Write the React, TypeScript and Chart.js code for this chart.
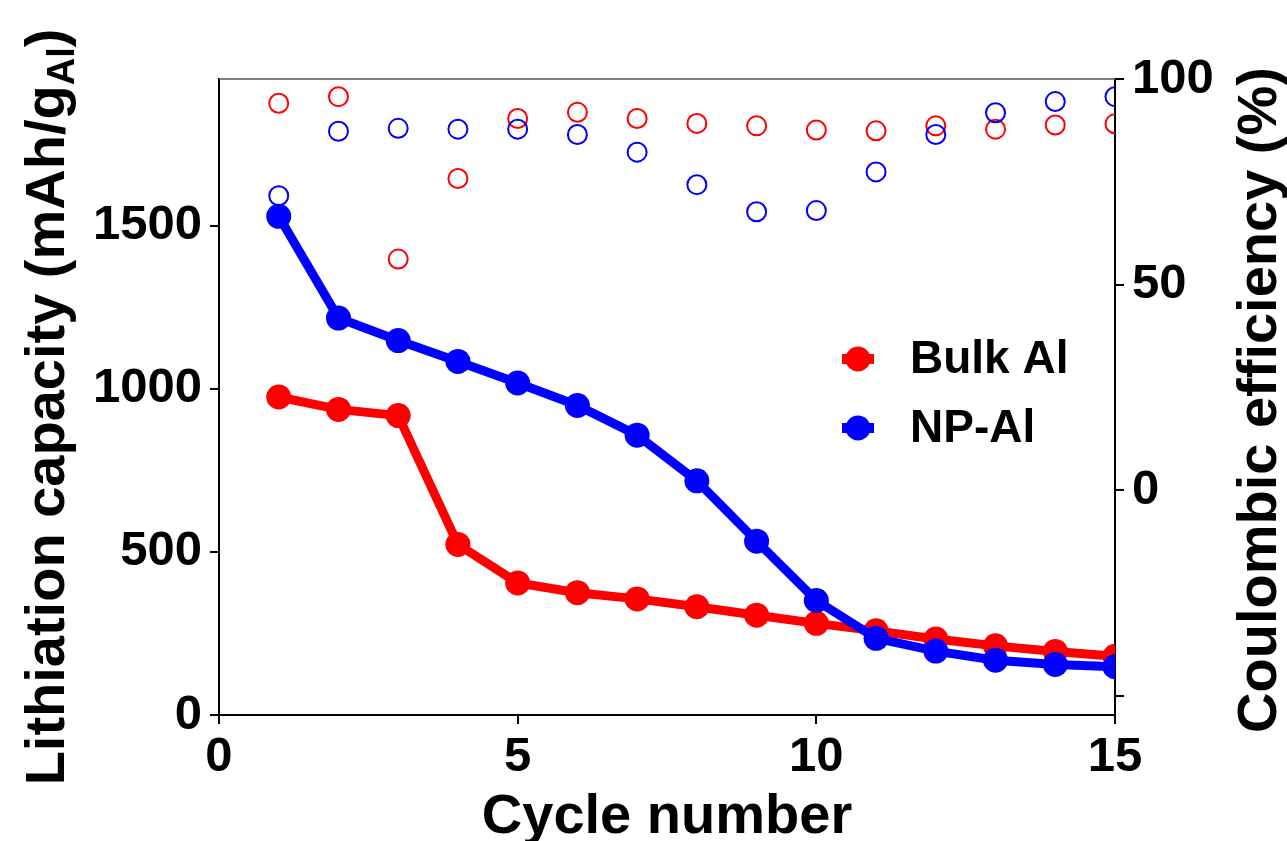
import React, { useEffect, useRef } from 'react';
import { Chart, registerables } from 'chart.js';

Chart.register(...registerables);

// ---- data ----
const cycles = [1, 2, 3, 4, 5, 6, 7, 8, 9, 10, 11, 12, 13, 14, 15];
const bulkCapacity = [975, 937, 918, 523, 405, 375, 356, 332, 306, 281, 258, 233, 212, 195, 180];
const npCapacity = [1529, 1217, 1148, 1084, 1018, 949, 858, 718, 533, 351, 235, 196, 168, 155, 148];
const bulkEfficiency = [94.1, 95.7, 56.2, 75.8, 90.4, 91.9, 90.4, 89.2, 88.6, 87.6, 87.4, 88.6, 87.8, 88.8, 89.1];
const npEfficiency = [71.6, 87.3, 88.0, 87.8, 87.8, 86.5, 82.2, 74.3, 67.7, 68.0, 77.4, 86.5, 91.8, 94.5, 95.7];

const cycleTicks = [0, 5, 10, 15];
const capacityTicks = [0, 500, 1000, 1500];
const efficiencyTicks = [-50, 0, 50, 100];
const hiddenEfficiencyTick = -50;

const seriesNames = ['Bulk Al', 'NP-Al'];
const seriesColors = ['#ff0000', '#0000ff'];
const xTitle = 'Cycle number';
const yTitleMain = 'Lithiation capacity (mAh/g';
const yTitleSub = 'Al';
const yTitleEnd = ')';
const y2Title = 'Coulombic efficiency (%)';

const FONT = '"Liberation Sans", Arial, Helvetica, sans-serif';

const toPoints = (ys: number[]) => cycles.map((c, i) => ({ x: c, y: ys[i] }));
const fixedTicks = (values: number[]) => (s: any) => {
  s.ticks = values.map((v) => ({ value: v }));
};

const decorPlugin = {
  id: 'decor',
  afterDraw(chart: any) {
    const { ctx, chartArea } = chart;
    ctx.save();
    // top spine
    ctx.strokeStyle = '#555555';
    ctx.lineWidth = 1.5;
    ctx.beginPath();
    ctx.moveTo(chartArea.left, chartArea.top);
    ctx.lineTo(chartArea.right, chartArea.top);
    ctx.stroke();

    ctx.fillStyle = '#000';
    // x title
    ctx.font = `bold 56px ${FONT}`;
    ctx.textAlign = 'center';
    ctx.textBaseline = 'alphabetic';
    ctx.fillText(xTitle, (chartArea.left + chartArea.right) / 2, 833);

    // left title with subscript
    const mainFont = `bold 56px ${FONT}`;
    const subFont = `bold 38px ${FONT}`;
    ctx.font = mainFont;
    const wMain = ctx.measureText(yTitleMain).width;
    const wEnd = ctx.measureText(yTitleEnd).width;
    ctx.font = subFont;
    const wSub = ctx.measureText(yTitleSub).width;
    const total = wMain + wSub + wEnd;
    ctx.save();
    ctx.translate(64, 407);
    ctx.rotate(-Math.PI / 2);
    ctx.textAlign = 'left';
    let cx = -total / 2;
    ctx.font = mainFont;
    ctx.fillText(yTitleMain, cx, 0);
    cx += wMain;
    ctx.font = subFont;
    ctx.fillText(yTitleSub, cx, 10);
    cx += wSub;
    ctx.font = mainFont;
    ctx.fillText(yTitleEnd, cx, 0);
    ctx.restore();

    // right title
    ctx.save();
    ctx.translate(1276, 400);
    ctx.rotate(-Math.PI / 2);
    ctx.font = mainFont;
    ctx.textAlign = 'center';
    ctx.fillText(y2Title, 0, 0);
    ctx.restore();

    // legend
    const legendY = [359, 428];
    seriesNames.forEach((name, i) => {
      const y = legendY[i];
      ctx.fillStyle = seriesColors[i];
      ctx.fillRect(842, y - 5, 32, 10);
      ctx.beginPath();
      ctx.arc(858, y, 12.5, 0, Math.PI * 2);
      ctx.fill();
      ctx.fillStyle = '#000';
      ctx.font = `bold 46px ${FONT}`;
      ctx.textAlign = 'left';
      ctx.textBaseline = 'middle';
      ctx.fillText(name, 910, y + 1);
    });
    ctx.restore();
  },
};

export default function App() {
  const canvasRef = useRef<HTMLCanvasElement | null>(null);

  useEffect(() => {
    if (!canvasRef.current) return;
    const tickFont = { family: FONT, size: 49, weight: 'bold' as const };
    const axisGrid = {
      display: true,
      drawOnChartArea: false,
      drawTicks: true,
      tickLength: 9,
      color: '#000',
      lineWidth: 2,
    };
    const axisBorder = { display: true, color: '#000', width: 2 };

    const chart = new Chart(canvasRef.current, {
      type: 'line',
      data: {
        datasets: [
          {
            label: seriesNames[0] + ' CE',
            data: toPoints(bulkEfficiency),
            yAxisID: 'y2',
            showLine: false,
            borderColor: seriesColors[0],
            backgroundColor: '#ffffff',
            pointRadius: 9.5,
            pointBorderWidth: 2,
            pointBorderColor: seriesColors[0],
            pointBackgroundColor: 'rgba(255,255,255,0)',
            order: 1,
          },
          {
            label: seriesNames[1] + ' CE',
            data: toPoints(npEfficiency),
            yAxisID: 'y2',
            showLine: false,
            borderColor: seriesColors[1],
            backgroundColor: '#ffffff',
            pointRadius: 9.5,
            pointBorderWidth: 2,
            pointBorderColor: seriesColors[1],
            pointBackgroundColor: 'rgba(255,255,255,0)',
            order: 0,
          },
          {
            label: seriesNames[0],
            data: toPoints(bulkCapacity),
            yAxisID: 'y',
            borderColor: seriesColors[0],
            backgroundColor: seriesColors[0],
            borderWidth: 9,
            pointRadius: 12.5,
            pointBorderWidth: 0,
            pointBackgroundColor: seriesColors[0],
            tension: 0,
            order: 3,
          },
          {
            label: seriesNames[1],
            data: toPoints(npCapacity),
            yAxisID: 'y',
            borderColor: seriesColors[1],
            backgroundColor: seriesColors[1],
            borderWidth: 9,
            pointRadius: 12.5,
            pointBorderWidth: 0,
            pointBackgroundColor: seriesColors[1],
            tension: 0,
            order: 2,
          },
        ],
      },
      options: {
        responsive: false,
        animation: false,
        layout: { padding: { top: 79, left: 0, right: 0, bottom: 0 } },
        plugins: { legend: { display: false }, tooltip: { enabled: false } },
        scales: {
          x: {
            type: 'linear',
            min: 0,
            max: 15,
            afterBuildTicks: fixedTicks(cycleTicks),
            ticks: { font: tickFont, color: '#000', padding: 4, maxRotation: 0 },
            grid: axisGrid,
            border: axisBorder,
            afterFit: (s: any) => { s.height = 126; },
          },
          y: {
            type: 'linear',
            position: 'left',
            min: 0,
            max: 1950,
            afterBuildTicks: fixedTicks(capacityTicks),
            ticks: { font: tickFont, color: '#000', padding: 8, callback: (v: any) => String(v) },
            grid: axisGrid,
            border: axisBorder,
            afterFit: (s: any) => { s.width = 219; },
          },
          y2: {
            type: 'linear',
            position: 'right',
            min: -54.7,
            max: 100,
            afterBuildTicks: fixedTicks(efficiencyTicks),
            ticks: {
              font: tickFont,
              color: '#000',
              padding: 8,
              callback: (v: any) => (v === hiddenEfficiencyTick ? '' : String(v)),
            },
            grid: axisGrid,
            border: axisBorder,
            afterFit: (s: any) => { s.width = 172; },
          },
        },
      } as any,
      plugins: [decorPlugin],
    });
    return () => chart.destroy();
  }, []);

  return (
    <div style={{ position: 'fixed', left: 0, top: 0, width: 1287, height: 841, background: '#fff' }}>
      <canvas ref={canvasRef} width={1287} height={841} style={{ display: 'block' }} />
    </div>
  );
}
